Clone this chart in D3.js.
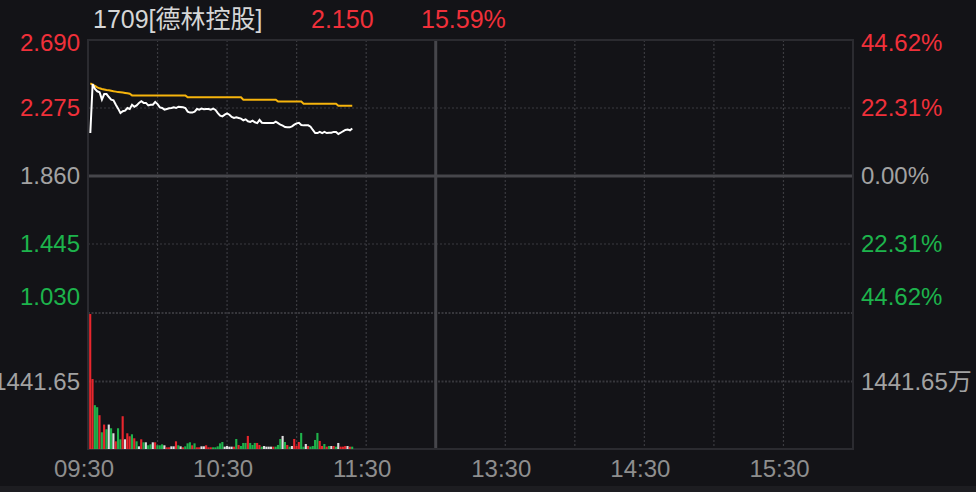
<!DOCTYPE html>
<html>
<head>
<meta charset="utf-8">
<script src="https://cdn.jsdelivr.net/npm/d3@7/dist/d3.min.js"></script>
<style>
  body { margin: 0; background: #131317; overflow: hidden; }
  svg text { font-family: "Liberation Sans", Arial, "Noto Sans CJK SC", sans-serif; }
</style>
</head>
<body>
<div class="chart"></div>
<script>
// quote header
var stockName = "1709[德林控股]";
var lastPrice = 2.150;
var prevClose = 1.860;

// axis ticks
var priceTicks = [2.690, 2.275, 1.860, 1.445, 1.030];
var timeLabels = ["09:30", "10:30", "11:30", "13:30", "14:30", "15:30"];
var timeLabelMin = [0, 60, 120, 180, 240, 300];
var volMid = 1441.65;

// one value per minute from 09:31
var prices = [
  2.122, 2.421, 2.391, 2.377, 2.371, 2.326, 2.360, 2.360, 2.342, 2.326,
  2.322, 2.295, 2.271, 2.244, 2.255, 2.259, 2.275, 2.269, 2.295, 2.283,
  2.291, 2.306, 2.316, 2.306, 2.306, 2.291, 2.295, 2.295, 2.312, 2.299,
  2.279, 2.275, 2.265, 2.269, 2.273, 2.275, 2.279, 2.275, 2.283, 2.281,
  2.279, 2.275, 2.253, 2.247, 2.247, 2.253, 2.269, 2.265, 2.271, 2.267,
  2.269, 2.269, 2.265, 2.271, 2.263, 2.244, 2.228, 2.224, 2.234, 2.242,
  2.234, 2.220, 2.214, 2.218, 2.214, 2.210, 2.200, 2.206, 2.194, 2.190,
  2.198, 2.188, 2.183, 2.202, 2.185, 2.183, 2.183, 2.183, 2.183, 2.183,
  2.192, 2.183, 2.173, 2.167, 2.159, 2.157, 2.157, 2.163, 2.173, 2.181,
  2.185, 2.171, 2.169, 2.169, 2.169, 2.161, 2.141, 2.122, 2.122, 2.129,
  2.122, 2.129, 2.122, 2.124, 2.124, 2.129, 2.129, 2.116, 2.124, 2.133,
  2.141, 2.143, 2.139, 2.150
];

var avgPrices = [
  2.425, 2.418, 2.410, 2.401, 2.395, 2.391, 2.388, 2.385, 2.383, 2.380,
  2.377, 2.375, 2.372, 2.371, 2.369, 2.367, 2.365, 2.362, 2.352, 2.352,
  2.352, 2.352, 2.352, 2.352, 2.352, 2.352, 2.352, 2.352, 2.352, 2.352,
  2.352, 2.352, 2.352, 2.352, 2.352, 2.352, 2.352, 2.352, 2.352, 2.352,
  2.352, 2.352, 2.340, 2.340, 2.340, 2.340, 2.340, 2.340, 2.340, 2.340,
  2.340, 2.340, 2.340, 2.340, 2.340, 2.340, 2.340, 2.340, 2.340, 2.340,
  2.340, 2.340, 2.340, 2.340, 2.340, 2.340, 2.326, 2.326, 2.326, 2.326,
  2.326, 2.326, 2.326, 2.326, 2.326, 2.326, 2.326, 2.326, 2.326, 2.326,
  2.326, 2.314, 2.314, 2.314, 2.314, 2.314, 2.314, 2.314, 2.314, 2.314,
  2.314, 2.314, 2.301, 2.301, 2.301, 2.301, 2.301, 2.301, 2.301, 2.301,
  2.301, 2.301, 2.301, 2.301, 2.301, 2.301, 2.301, 2.289, 2.289, 2.289,
  2.289, 2.289, 2.289, 2.289
];

// volume in 万
var volumes = [
  2883, 1494, 936, 893, 722, 357, 522, 422, 522, 443,
  336, 164, 443, 207, 700, 207, 336, 272, 314, 229,
  164, 57, 207, 143, 143, 79, 100, 143, 143, 79,
  79, 100, 79, 36, 36, 57, 57, 164, 79, 57,
  36, 57, 121, 143, 79, 121, 36, 36, 57, 57,
  79, 36, 36, 36, 36, 57, 121, 150, 50, 64,
  50, 50, 50, 214, 86, 64, 129, 129, 279, 129,
  86, 129, 129, 86, 50, 64, 50, 50, 50, 50,
  50, 86, 214, 279, 150, 86, 50, 64, 214, 64,
  150, 343, 50, 107, 64, 50, 64, 193, 343, 172,
  64, 107, 50, 64, 64, 64, 50, 129, 50, 50,
  64, 64, 50, 50
];

// 1 up, -1 down, 0 flat
var volDir = [
  1, 1, -1, -1, 1, -1, 1, -1, 0, -1,
  0, 1, -1, -1, 1, 0, 1, 1, -1, 1,
  -1, 0, 1, -1, 0, -1, -1, 0, 1, -1,
  -1, -1, 0, 1, 1, 0, 0, 1, -1, 0,
  1, -1, -1, -1, 1, -1, 1, 1, 0, 0,
  1, 1, 1, -1, -1, -1, -1, -1, 0, 0,
  0, 0, 1, -1, 1, -1, -1, -1, 1, -1,
  -1, -1, 1, 1, -1, 0, 0, 0, 0, 1,
  -1, -1, -1, 0, -1, 1, -1, 0, 1, 1,
  1, -1, -1, 0, 1, -1, -1, -1, -1, 1,
  1, -1, 1, -1, 0, 1, -1, 0, 1, 1,
  1, 0, 1, -1
];

function drawChart() {
  var width = 976, height = 492;
  var m = { left: 88, right: 853, top: 40, priceBottom: 312, volTop: 313, volBottom: 449 };
  var red = "#f0303a", green = "#1db44c", gray = "#a2a2a2";

  var svg = d3.select("div.chart")
    .append("svg")
    .attr("width", width)
    .attr("height", height);

  svg.append("rect").attr("width", width).attr("height", height).attr("fill", "#131317");
  svg.append("rect").attr("x", 0).attr("y", 486).attr("width", width).attr("height", 6).attr("fill", "#1d1d21");

  // 330 trading minutes (09:30-12:00, 13:00-16:00)
  var x = d3.scaleLinear().domain([0, 330]).range([m.left, m.right]);
  var yP = d3.scaleLinear().domain([priceTicks[4], priceTicks[0]]).range([m.priceBottom, m.top]);
  var yV = d3.scaleLinear().domain([0, volMid * 2]).range([m.volBottom, m.volTop + 1]);

  // grid
  var grid = svg.append("g");
  d3.range(30, 330, 30).forEach(function (t) {
    if (t == 150) return;
    grid.append("line")
      .attr("x1", x(t)).attr("x2", x(t)).attr("y1", m.top).attr("y2", m.volBottom)
      .attr("stroke", "#3b3b40").attr("stroke-width", 1.2).attr("stroke-dasharray", "2,2");
  });
  [priceTicks[1], priceTicks[3]].forEach(function (p) {
    grid.append("line")
      .attr("x1", m.left).attr("x2", m.right).attr("y1", yP(p)).attr("y2", yP(p))
      .attr("stroke", "#3b3b40").attr("stroke-width", 1.2).attr("stroke-dasharray", "2,2");
  });
  grid.append("line")
    .attr("x1", m.left).attr("x2", m.right).attr("y1", m.volTop).attr("y2", m.volTop)
    .attr("stroke", "#37373c").attr("stroke-width", 2).attr("stroke-dasharray", "2,1.5");
  grid.append("line")
    .attr("x1", m.left).attr("x2", m.right).attr("y1", yV(volMid)).attr("y2", yV(volMid))
    .attr("stroke", "#37373c").attr("stroke-width", 2).attr("stroke-dasharray", "2,1.5");
  // midday + previous close
  grid.append("line")
    .attr("x1", x(150)).attr("x2", x(150)).attr("y1", m.top).attr("y2", m.volBottom)
    .attr("stroke", "#46464b").attr("stroke-width", 3);
  grid.append("line")
    .attr("x1", m.left).attr("x2", m.right).attr("y1", yP(prevClose)).attr("y2", yP(prevClose))
    .attr("stroke", "#46464b").attr("stroke-width", 3);
  grid.append("rect")
    .attr("x", m.left).attr("y", m.top).attr("width", m.right - m.left).attr("height", m.volBottom - m.top)
    .attr("fill", "none").attr("stroke", "#2b2b30").attr("stroke-width", 2);

  // volume bars
  var bw = x(1) - x(0);
  svg.append("g").selectAll("rect")
    .data(volumes).enter().append("rect")
    .attr("x", function (d, i) { return x(i + 1) - bw / 2; })
    .attr("y", function (d) { return yV(d); })
    .attr("width", bw - 0.2)
    .attr("height", function (d) { return m.volBottom - yV(d); })
    .attr("fill", function (d, i) { return volDir[i] > 0 ? "#e8262d" : volDir[i] < 0 ? "#1fb24b" : "#dedede"; });

  // price + average lines
  var line = d3.line()
    .x(function (d, i) { return x(i + 1); })
    .y(function (d) { return yP(d); });
  svg.append("path").datum(avgPrices).attr("d", line)
    .attr("fill", "none").attr("stroke", "#f6b40c").attr("stroke-width", 2);
  svg.append("path").datum(prices).attr("d", line)
    .attr("fill", "none").attr("stroke", "#ffffff").attr("stroke-width", 2);

  // axis labels
  var fs = 24;
  function tickColor(p) { return p > prevClose ? red : p < prevClose ? green : gray; }
  function labelY(p, i) {
    var y = yP(p) + 8;
    if (i == 0) y += 3;
    if (i == priceTicks.length - 1) y -= 15;
    return y;
  }
  svg.selectAll("text.lp").data(priceTicks).enter().append("text")
    .attr("x", 80).attr("y", labelY)
    .attr("text-anchor", "end").attr("font-size", fs)
    .attr("fill", tickColor)
    .text(function (d) { return d.toFixed(3); });
  svg.selectAll("text.rp").data(priceTicks).enter().append("text")
    .attr("x", 861).attr("y", labelY)
    .attr("font-size", fs)
    .attr("fill", tickColor)
    .text(function (d) { return (Math.abs(d - prevClose) / prevClose * 100).toFixed(2) + "%"; });

  svg.append("text").attr("x", 80).attr("y", yV(volMid) + 8)
    .attr("text-anchor", "end").attr("font-size", fs).attr("fill", gray)
    .text(volMid.toFixed(2));
  svg.append("text").attr("x", 861).attr("y", yV(volMid) + 8)
    .attr("font-size", fs).attr("fill", gray)
    .text(volMid.toFixed(2) + "万");

  svg.selectAll("text.t").data(timeLabels).enter().append("text")
    .attr("x", function (d, i) { return x(timeLabelMin[i]) - 4; })
    .attr("y", 477)
    .attr("text-anchor", "middle").attr("font-size", fs).attr("fill", "#8e8e8e")
    .text(function (d) { return d; });

  // header
  svg.append("text").attr("x", 93).attr("y", 28).attr("font-size", 25).attr("fill", "#d6d6d6").text(stockName);
  svg.append("text").attr("x", 311).attr("y", 28).attr("font-size", 25).attr("fill", red).text(lastPrice.toFixed(3));
  svg.append("text").attr("x", 421).attr("y", 28).attr("font-size", 25).attr("fill", red)
    .text(((lastPrice - prevClose) / prevClose * 100).toFixed(2) + "%");
}

drawChart();
</script>
</body>
</html>
